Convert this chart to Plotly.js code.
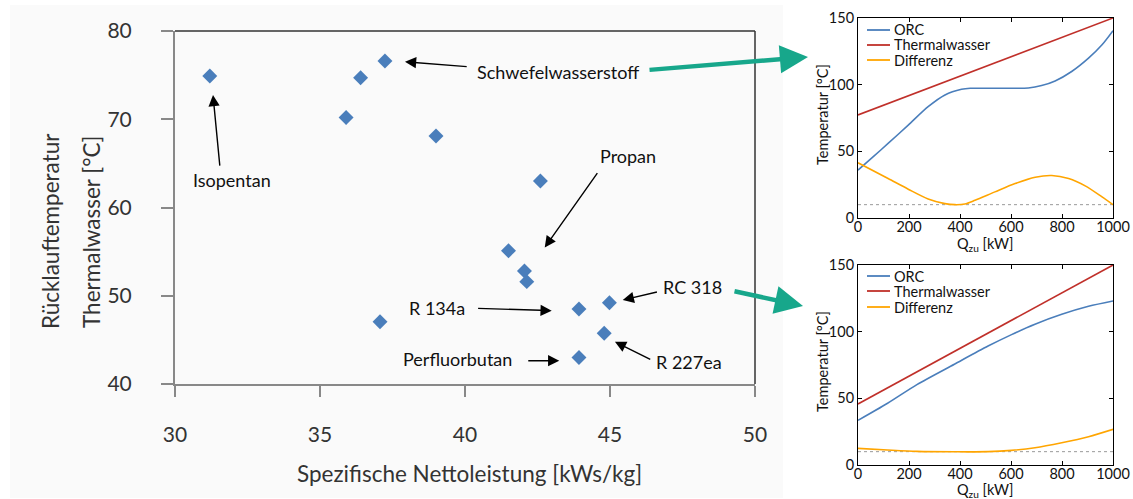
<!DOCTYPE html>
<html>
<head>
<meta charset="utf-8">
<script src="https://cdn.plot.ly/plotly-3.0.1.min.js"></script>
<style>
  html, body { margin: 0; padding: 0; background: #ffffff; }
  #chart { width: 1133px; height: 499px; }
</style>
</head>
<body>
<div id="chart"></div>
<script>
// ---------- Data ----------
// Main scatter: specific net power [kWs/kg] vs. return temperature [°C]
const leistung = [31.2, 36.4, 37.24, 35.9, 39.0, 42.6, 41.5, 42.05, 42.13, 37.07, 43.93, 44.98, 44.8, 43.93];
const ruecklauf = [74.9, 74.7, 76.6, 70.2, 68.1, 63.0, 55.1, 52.8, 51.6, 47.06, 48.5, 49.2, 45.75, 43.0];

// Labelled fluids: label, text position, arrow tail, arrow head
const fluidLabels = ["Isopentan", "Schwefelwasserstoff", "Propan", "R 134a", "RC 318", "R 227ea", "Perfluorbutan"];
const labelX = [31.98, 43.22, 45.63, 39.05, 47.85, 47.71, 39.74];
const labelY = [63.08, 75.39, 65.84, 48.58, 51.03, 42.53, 42.83];
const tailX = [31.55, 40.11, 44.60, 40.40, 46.67, 46.44, 42.13];
const tailY = [64.58, 75.95, 64.06, 48.58, 50.46, 42.72, 42.64];
const headX = [31.31, 37.93, 42.75, 42.99, 45.44, 45.17, 43.25];
const headY = [72.75, 76.52, 55.47, 48.31, 49.52, 44.79, 42.64];

// Top small plot (Schwefelwasserstoff)
const orcTopQ = [0, 60, 118, 197, 275, 341, 406, 440, 500, 600, 668, 720, 773, 838, 904, 957, 1000];
const orcTopT = [35.9, 46, 55.9, 69.7, 83.5, 92.3, 96.5, 97.3, 97.3, 97.3, 97.5, 99.3, 102.8, 109.9, 119.9, 129.9, 140.5];
const thermTopQ = [0, 1000];
const thermTopT = [77.3, 150];
const diffTopQ = [0, 118, 197, 275, 341, 380, 419, 459, 537, 616, 695, 760, 826, 891, 957, 1000];
const diffTopT = [41.4, 29.6, 21.6, 14.3, 10.8, 10.0, 10.5, 13.3, 19.6, 25.8, 30.6, 31.9, 29.6, 24.1, 15.8, 10.0];

// Bottom small plot (RC 318)
const orcBotQ = [0, 116, 231, 378, 510, 602, 694, 799, 904, 1000];
const orcBotT = [33.5, 46.3, 60.3, 75.6, 89.2, 97.8, 105.6, 113, 119, 123];
const thermBotQ = [0, 1000];
const thermBotT = [45.75, 150];
const diffBotQ = [0, 116, 231, 378, 510, 602, 694, 799, 904, 1000];
const diffBotT = [12.5, 11.25, 10.2, 9.9, 10.0, 11, 13, 16.75, 21.25, 26.75];

// Minimum temperature difference (pinch) line
const pinchQ = [0, 1000];
const pinchT = [10, 10];

const legendNames = ["ORC", "Thermalwasser", "Differenz"];

// ---------- Styling helpers ----------
const W = 1133, H = 499;
const px = v => v / W;
const py = v => 1 - v / H;
const FONT = "Lato, 'Open Sans', sans-serif";
const cORC = "#4a7ebb", cTH = "#c0302a", cDIFF = "#ffa500";
const TEAL = "#17a78b";

const lw = 1.6;
function line(x, y, color, xa, ya, dash) {
  return {x: x, y: y, type: "scatter", mode: "lines", xaxis: xa, yaxis: ya,
    line: {color: color, width: dash ? 1 : lw, shape: dash ? "linear" : "spline", smoothing: 0.8, dash: dash || "solid"},
    showlegend: false, hoverinfo: "skip"};
}

const traces = [
  {x: leistung, y: ruecklauf, type: "scatter", mode: "markers", xaxis: "x", yaxis: "y",
   marker: {symbol: "diamond", size: 11.5, color: "#4a7ebb"}, showlegend: false},
  line(pinchQ, pinchT, "#9a9a9a", "x2", "y2", "dot"),
  line(thermTopQ, thermTopT, cTH, "x2", "y2"),
  line(orcTopQ, orcTopT, cORC, "x2", "y2"),
  line(diffTopQ, diffTopT, cDIFF, "x2", "y2"),
  line(pinchQ, pinchT, "#9a9a9a", "x3", "y3", "dot"),
  line(thermBotQ, thermBotT, cTH, "x3", "y3"),
  line(orcBotQ, orcBotT, cORC, "x3", "y3"),
  line(diffBotQ, diffBotT, cDIFF, "x3", "y3")
];

const annotations = [];
const shapes = [];

// light background panel behind main chart
shapes.push({type: "rect", xref: "paper", yref: "paper", x0: px(10), x1: px(783), y0: py(498), y1: py(5),
  fillcolor: "#fafafa", line: {width: 0}, layer: "below"});
// top and right frame of main plot
shapes.push({type: "line", xref: "x domain", yref: "y domain", x0: 0, x1: 1, y0: 1, y1: 1, line: {color: "#333", width: 1.5}});
shapes.push({type: "line", xref: "x domain", yref: "y domain", x0: 1, x1: 1, y0: 0, y1: 1, line: {color: "#333", width: 1.5}});

// fluid labels + arrows
for (let i = 0; i < fluidLabels.length; i++) {
  annotations.push({xref: "x", yref: "y", x: labelX[i], y: labelY[i], text: fluidLabels[i], showarrow: false,
    font: {family: FONT, size: 18, color: "#111"}, xanchor: "center", yanchor: "middle"});
  annotations.push({xref: "x", yref: "y", axref: "x", ayref: "y", x: headX[i], y: headY[i], ax: tailX[i], ay: tailY[i],
    text: "", showarrow: true, arrowhead: 2, arrowsize: 1.6, arrowwidth: 1.4, arrowcolor: "#000", standoff: 0, startstandoff: 0});
}

// main axis titles
annotations.push({xref: "paper", yref: "paper", x: px(469.5), y: py(473), text: "Spezifische Nettoleistung [kWs/kg]",
  showarrow: false, font: {family: FONT, size: 22.5, color: "#333"}, xanchor: "center", yanchor: "middle"});
annotations.push({xref: "paper", yref: "paper", x: px(50), y: py(231), text: "Rücklauftemperatur", textangle: -90,
  showarrow: false, font: {family: FONT, size: 22.5, color: "#333"}, xanchor: "center", yanchor: "middle"});
annotations.push({xref: "paper", yref: "paper", x: px(91), y: py(232), text: "Thermalwasser [°C]", textangle: -90,
  showarrow: false, font: {family: FONT, size: 22.5, color: "#333"}, xanchor: "center", yanchor: "middle"});

// small plot titles
[[115, 245], [362, 490]].forEach(([yc, xt]) => {
  annotations.push({xref: "paper", yref: "paper", x: px(822), y: py(yc), text: "Temperatur [°C]", textangle: -90,
    showarrow: false, font: {family: FONT, size: 14.5, color: "#111"}, xanchor: "center", yanchor: "middle"});
  annotations.push({xref: "paper", yref: "paper", x: px(985), y: py(xt), text: "Q<sub>zu</sub> [kW]",
    showarrow: false, font: {family: FONT, size: 14.5, color: "#111"}, xanchor: "center", yanchor: "middle"});
});

// manual legends for small plots
const legColors = [cORC, cTH, cDIFF];
[[30, 45, 60], [276, 291, 307]].forEach(rows => {
  rows.forEach((r, i) => {
    shapes.push({type: "line", xref: "paper", yref: "paper", x0: px(867), x1: px(890), y0: py(r), y1: py(r),
      line: {color: legColors[i], width: 1.8}});
    annotations.push({xref: "paper", yref: "paper", x: px(892), y: py(r), text: legendNames[i], showarrow: false,
      font: {family: FONT, size: 14.5, color: "#111"}, xanchor: "left", yanchor: "middle"});
  });
});

// teal connector arrows
annotations.push({xref: "paper", yref: "paper", axref: "pixel", ayref: "pixel", x: px(808), y: py(57), ax: -160, ay: 13,
  text: "", showarrow: true, arrowhead: 2, arrowsize: 1.25, arrowwidth: 4.5, arrowcolor: TEAL, standoff: 0});
annotations.push({xref: "paper", yref: "paper", axref: "pixel", ayref: "pixel", x: px(803), y: py(306), ax: -70, ay: -15,
  text: "", showarrow: true, arrowhead: 2, arrowsize: 1.25, arrowwidth: 4.5, arrowcolor: TEAL, standoff: 0});

const smallX = (dom) => ({domain: dom, range: [0, 1000], tickvals: [0, 200, 400, 600, 800, 1000],
  showline: true, linecolor: "#000", linewidth: 1, mirror: "ticks", ticks: "inside", ticklen: 4, tickcolor: "#000",
  showgrid: false, zeroline: false, ticklabelstandoff: -4,
  tickfont: {family: FONT, size: 14.5, color: "#111"}, fixedrange: true});
const smallY = (dom, anchor) => ({domain: dom, range: [0, 150], tickvals: [0, 50, 100, 150], anchor: anchor,
  showline: true, linecolor: "#000", linewidth: 1, mirror: "ticks", ticks: "inside", ticklen: 4, tickcolor: "#000",
  showgrid: false, zeroline: false, tickfont: {family: FONT, size: 14.5, color: "#111"}, fixedrange: true});

const xs2 = smallX([px(858), px(1113)]); xs2.anchor = "y2";
const xs3 = smallX([px(858), px(1113)]); xs3.anchor = "y3";

const layout = {
  width: W, height: H,
  margin: {l: 0, r: 0, t: 0, b: 0, pad: 0},
  paper_bgcolor: "#ffffff", plot_bgcolor: "rgba(0,0,0,0)",
  showlegend: false,
  font: {family: FONT},
  xaxis: {domain: [px(175), px(755)], range: [30, 50], tickvals: [30, 35, 40, 45, 50], anchor: "y",
    showline: true, linecolor: "#888", linewidth: 2, ticks: "outside", ticklen: 11, tickwidth: 2, tickcolor: "#888",
    showgrid: false, zeroline: false, ticklabelstandoff: 20,
    tickfont: {family: FONT, size: 21, color: "#333"}, fixedrange: true},
  yaxis: {domain: [py(384), py(31)], range: [40, 80], tickvals: [40, 50, 60, 70, 80], anchor: "x",
    showline: true, linecolor: "#888", linewidth: 2, ticks: "outside", ticklen: 12, tickwidth: 2, tickcolor: "#888",
    showgrid: false, zeroline: false, ticklabelstandoff: 25,
    tickfont: {family: FONT, size: 21, color: "#333"}, fixedrange: true},
  xaxis2: xs2,
  yaxis2: smallY([py(218), py(18)], "x2"),
  xaxis3: xs3,
  yaxis3: smallY([py(465), py(265)], "x3"),
  shapes: shapes,
  annotations: annotations
};

Plotly.newPlot("chart", traces, layout, {displayModeBar: false, staticPlot: true});
</script>
</body>
</html>
